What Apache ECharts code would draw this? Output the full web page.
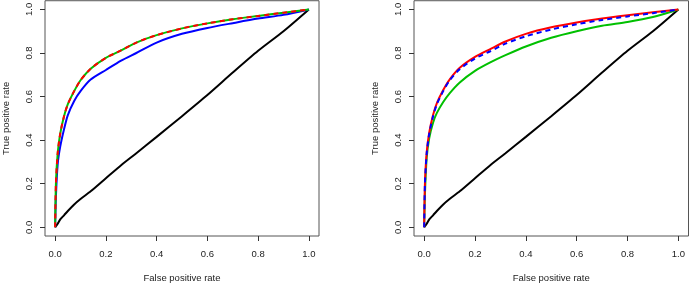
<!DOCTYPE html>
<html><head><meta charset="utf-8">
<script src="https://cdn.jsdelivr.net/npm/echarts@6/dist/echarts.min.js"></script>
<style>html,body{margin:0;padding:0;background:#fff}#c{width:690px;height:288px}</style>
</head><body><div id="c"></div>
<script>
const tickValues = [0, 0.2, 0.4, 0.6, 0.8, 1.0];
const xLabel = "False positive rate";
const yLabel = "True positive rate";

const fprGrid = [0, 0.003, 0.01, 0.02, 0.035, 0.05, 0.075, 0.1, 0.14, 0.2, 0.26, 0.32, 0.4, 0.5, 0.6, 0.7, 0.8, 0.9, 1.0];

// Left panel
const leftBlack = [0, 0.005, 0.016, 0.036, 0.055, 0.075, 0.105, 0.13, 0.165, 0.225, 0.285, 0.34, 0.415, 0.51, 0.607, 0.71, 0.81, 0.9, 1.0];
const leftBlue  = [0, 0.14, 0.29, 0.37, 0.45, 0.515, 0.58, 0.625, 0.678, 0.722, 0.765, 0.8, 0.848, 0.888, 0.915, 0.937, 0.958, 0.975, 1.0];
const leftGreen = [0, 0.2, 0.34, 0.43, 0.51, 0.565, 0.625, 0.675, 0.728, 0.778, 0.812, 0.848, 0.882, 0.913, 0.936, 0.955, 0.97, 0.985, 1.0];
const leftRed   = [0, 0.2, 0.34, 0.43, 0.51, 0.565, 0.625, 0.675, 0.728, 0.778, 0.812, 0.848, 0.882, 0.913, 0.936, 0.955, 0.97, 0.985, 1.0];

// Right panel
const rightBlack = [0, 0.005, 0.016, 0.036, 0.055, 0.075, 0.105, 0.13, 0.165, 0.225, 0.285, 0.34, 0.415, 0.51, 0.607, 0.71, 0.81, 0.9, 1.0];
const rightGreen = [0, 0.15, 0.32, 0.41, 0.48, 0.525, 0.575, 0.615, 0.665, 0.718, 0.757, 0.79, 0.83, 0.87, 0.9, 0.925, 0.942, 0.965, 1.0];
const rightRed   = [0, 0.2, 0.345, 0.435, 0.515, 0.57, 0.63, 0.678, 0.732, 0.782, 0.818, 0.853, 0.888, 0.918, 0.94, 0.958, 0.973, 0.987, 1.0];
const rightBlue  = [0, 0.2, 0.34, 0.43, 0.51, 0.565, 0.625, 0.674, 0.726, 0.775, 0.808, 0.843, 0.877, 0.908, 0.932, 0.952, 0.968, 0.983, 1.0];

const pairs = ys => fprGrid.map((x, i) => [x, ys[i]]);
const FONT = "Liberation Sans, Arial, Helvetica, sans-serif";
const fmt = v => Number(v).toFixed(1);

function xAxis(gi) {
  return {
    gridIndex: gi, type: 'value', min: -0.04, max: 1.04,
    name: xLabel, nameLocation: 'middle', nameGap: 37,
    nameTextStyle: {fontFamily: FONT, fontSize: 9.5, color: '#222'},
    axisLine: {show: false, onZero: false},
    splitLine: {show: false},
    axisTick: {show: true, customValues: tickValues, length: 5, lineStyle: {color: '#333', width: 1}},
    axisLabel: {customValues: tickValues, formatter: fmt, margin: 13, fontFamily: FONT, fontSize: 9.5, color: '#222'}
  };
}
function yAxis(gi) {
  return {
    gridIndex: gi, type: 'value', min: -0.04, max: 1.04,
    name: yLabel, nameLocation: 'middle', nameGap: 34, nameRotate: 90,
    nameTextStyle: {fontFamily: FONT, fontSize: 9.5, color: '#222'},
    axisLine: {show: false, onZero: false},
    splitLine: {show: false},
    axisTick: {show: true, customValues: tickValues, length: 5, lineStyle: {color: '#333', width: 1}},
    axisLabel: {customValues: tickValues, formatter: fmt, rotate: 90, margin: 11, fontFamily: FONT, fontSize: 9.5, color: '#222'}
  };
}
function line(gi, ys, color, dashed, z) {
  return {
    type: 'line', xAxisIndex: gi, yAxisIndex: gi, data: pairs(ys),
    showSymbol: false, smooth: 0.25, z: z, animation: false,
    lineStyle: {color: color, width: 2, type: dashed ? [5, 4] : 'solid'}
  };
}

const chart = echarts.init(document.getElementById('c'), null, {renderer: 'canvas'});
chart.setOption({
  animation: false,
  backgroundColor: '#fff',
  grid: [
    {left: 44.5, top: 0.5, width: 274.5, height: 240, show: true, borderColor: '#555', borderWidth: 1, backgroundColor: 'transparent'},
    {left: 414, top: 0.5, width: 274.5, height: 240, show: true, borderColor: '#555', borderWidth: 1, backgroundColor: 'transparent'}
  ],
  xAxis: [xAxis(0), xAxis(1)],
  yAxis: [yAxis(0), yAxis(1)],
  series: [
    line(0, leftBlack, '#000000', false, 2),
    line(0, leftBlue, '#0000ff', false, 3),
    line(0, leftGreen, '#00c000', false, 4),
    line(0, leftRed, '#ff0000', true, 5),
    line(1, rightBlack, '#000000', false, 2),
    line(1, rightGreen, '#00c000', false, 3),
    line(1, rightRed, '#ff0000', false, 4),
    line(1, rightBlue, '#0000ff', true, 5)
  ]
});
</script></body></html>
